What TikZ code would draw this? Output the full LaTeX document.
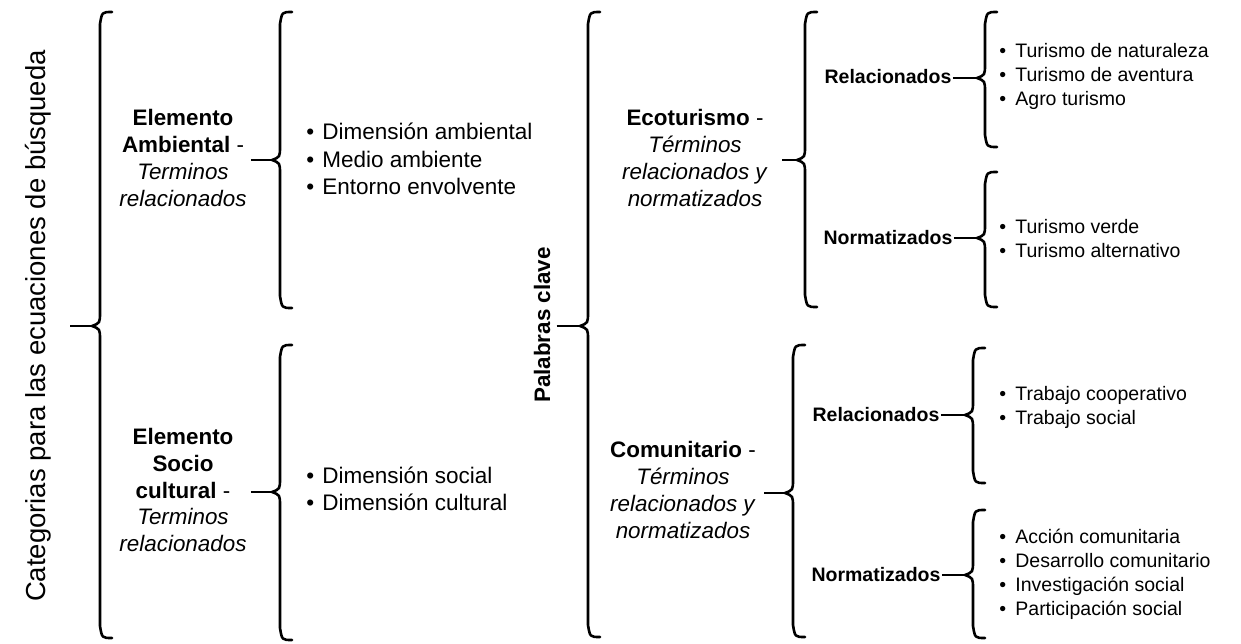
\documentclass[tikz,border=0pt]{standalone}
\usepackage{fontspec}
\setmainfont{Liberation Sans}
\usetikzlibrary{positioning}
\tikzset{
	x=0.5pt,
	y=-0.5pt,
	brace/.style={line width=1.3pt, line cap=round, line join=round},
	stub/.style={line width=1.1pt},
	vtext/.style={rotate=90, inner sep=0pt, font=\fontsize{13.75}{16}\selectfont},
	grouplbl/.style={align=center, inner ysep=0pt, inner xsep=2pt, font=\fontsize{11.2}{13.4}\selectfont},
	sublbl/.style={inner sep=0.5pt, font=\fontsize{9.75}{12}\selectfont\bfseries},
	bullets/.style={anchor=west, align=left, inner sep=0pt, font=\fontsize{11.25}{13.75}\selectfont},
	bulletsm/.style={bullets, font=\fontsize{9.75}{12}\selectfont},
}
\newcommand{\itm}{\makebox[8pt][l]{\textbullet}}
\newcommand{\curly}[5]{%
	\draw[brace] ({#2+12},#3) .. controls ({#2+2},#3) .. (#2,{#3+12}) -- (#2,{#4-14})
		.. controls (#2,{#4-3}) .. ({#2-8},#4) .. controls (#2,{#4+3}) .. (#2,{#4+14})
		-- (#2,{#5-12}) .. controls ({#2+2},#5) .. ({#2+12},#5);
	\coordinate (#1) at ({#2-8},#4);
}

\begin{document}
\begin{tikzpicture}
		\useasboundingbox (0,0) rectangle (1241,643);
		\node[vtext] (cat) at (38,326) {Categorias para las ecuaciones de búsqueda};
		\coordinate (c1) at (70,326);
		\curly{t1}{100}{12}{326}{638}
		\draw[stub] (c1) -- (t1);

		\node[grouplbl] (amb) at (183,158) {\textbf{Elemento}\\\textbf{Ambiental} -\\\textit{Terminos}\\\textit{relacionados}};
		\curly{t2}{280}{12}{160}{308}
		\draw[stub] (amb.east |- t2) -- (t2);
		\node[bullets] (ambl) at (306,159) {\itm Dimensión ambiental\\\itm Medio ambiente\\\itm Entorno envolvente};

		\node[grouplbl] (soc) at (183,490) {\textbf{Elemento}\\\textbf{Socio}\\\textbf{cultural} -\\\textit{Terminos}\\\textit{relacionados}};
		\curly{t5}{280}{345}{492}{640}
		\draw[stub] (soc.east |- t5) -- (t5);
		\node[bullets] (socl) at (306,489) {\itm Dimensión social\\\itm Dimensión cultural};

		\node[vtext, inner sep=3pt, font=\fontsize{11.2}{13}\selectfont\bfseries] (kw) at (542,325) {Palabras clave};
		\curly{t3}{588}{12}{326}{637}
		\draw[stub] (kw.south |- t3) -- (t3);

		\node[grouplbl, inner xsep=7pt] (eco) at (695,158) {\textbf{Ecoturismo} -\\\textit{Términos}\\\textit{relacionados y}\\\textit{normatizados}};
		\curly{t4}{805}{12}{160}{307}
		\draw[stub] (eco.east |- t4) -- (t4);

		\node[grouplbl, inner xsep=4pt] (com) at (683,490) {\textbf{Comunitario} -\\\textit{Términos}\\\textit{relacionados y}\\\textit{normatizados}};
		\curly{t7}{793}{345}{493}{637}
		\draw[stub] (com.east |- t7) -- (t7);

		\node[sublbl] (rel1) at (888,77) {Relacionados};
		\curly{t41}{985}{12}{78}{147}
		\draw[stub] (rel1.east |- t41) -- (t41);
		\node[bulletsm] (rel1l) at (999,76) {\itm Turismo de naturaleza\\\itm Turismo de aventura\\\itm Agro turismo};

		\node[sublbl] (nor1) at (888,238) {Normatizados};
		\curly{t42}{985}{172}{238}{307}
		\draw[stub] (nor1.east |- t42) -- (t42);
		\node[bulletsm] (nor1l) at (999,239) {\itm Turismo verde\\\itm Turismo alternativo};

		\node[sublbl] (rel2) at (876,415) {Relacionados};
		\curly{t71}{973}{348}{415}{483}
		\draw[stub] (rel2.east |- t71) -- (t71);
		\node[bulletsm] (rel2l) at (999,407) {\itm Trabajo cooperativo\\\itm Trabajo social};

		\node[sublbl] (nor2) at (876,575) {Normatizados};
		\curly{t72}{973}{510}{575}{638}
		\draw[stub] (nor2.east |- t72) -- (t72);
		\node[bulletsm] (nor2l) at (999,574) {\itm Acción comunitaria\\\itm Desarrollo comunitario\\\itm Investigación social\\\itm Participación social};
	\end{tikzpicture}
\end{document}
